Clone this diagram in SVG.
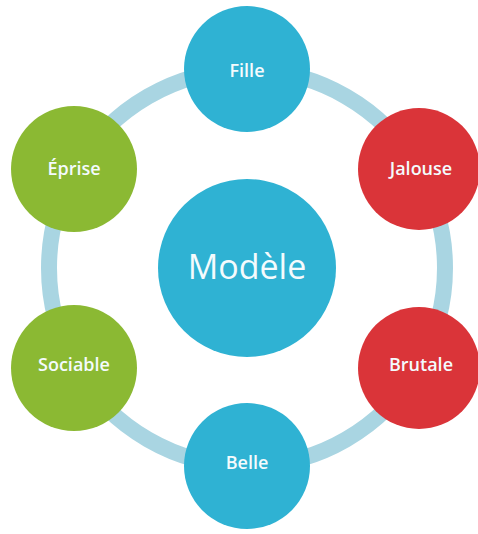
<svg xmlns="http://www.w3.org/2000/svg" width="478" height="534" viewBox="0 0 478 534">
<style>
.ring{fill:none;stroke:#a9d5e2;stroke-width:16}
.blue{fill:#2fb2d3}
.red{fill:#da3439}
.green{fill:#8bb933}
.lbl{font-family:"Open Sans","Noto Sans",sans-serif;font-size:18px;font-weight:600;fill:#f4fbfd;text-anchor:middle;dominant-baseline:central}
.big{font-family:"Open Sans","Noto Sans",sans-serif;font-size:34px;font-weight:400;fill:#f4fbfd;text-anchor:middle;dominant-baseline:central}
</style>
<rect width="478" height="534" fill="#ffffff"/>
<g id="connectors">
<path class="ring" d="M247,70 A198,198 0 0 1 418.47,169"/>
<path class="ring" d="M418.47,169 A198,198 0 0 1 418.47,367"/>
<path class="ring" d="M418.47,367 A198,198 0 0 1 247,466"/>
<path class="ring" d="M247,466 A198,198 0 0 1 75.53,367"/>
<path class="ring" d="M75.53,367 A198,198 0 0 1 75.53,169"/>
<path class="ring" d="M75.53,169 A198,198 0 0 1 247,70"/>
</g>
<g id="modele"><circle class="blue" cx="247" cy="268" r="89"/><text class="big" x="247" y="266">Modèle</text></g>
<g id="fille"><circle class="blue" cx="247" cy="69" r="63"/><text class="lbl" x="247" y="70">Fille</text></g>
<g id="jalouse"><circle class="red" cx="419" cy="169" r="61"/><text class="lbl" x="421" y="168">Jalouse</text></g>
<g id="brutale"><circle class="red" cx="419" cy="368" r="61"/><text class="lbl" x="421" y="364">Brutale</text></g>
<g id="belle"><circle class="blue" cx="247" cy="466" r="63"/><text class="lbl" x="247" y="462">Belle</text></g>
<g id="sociable"><circle class="green" cx="74" cy="368" r="63"/><text class="lbl" x="74" y="364">Sociable</text></g>
<g id="eprise"><circle class="green" cx="74" cy="169" r="63"/><text class="lbl" x="74" y="168">Éprise</text></g>
</svg>
